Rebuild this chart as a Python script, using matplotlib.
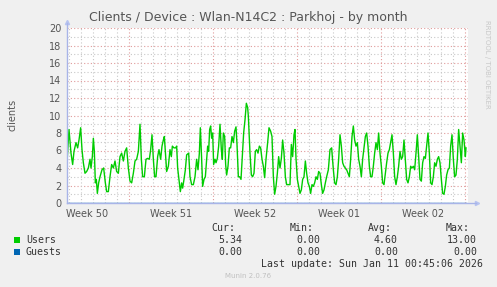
import matplotlib
matplotlib.use("Agg")
import matplotlib.pyplot as plt
import numpy as np

# ---- data ----
title = "Clients / Device : Wlan-N14C2 : Parkhoj - by month"
hours = [0, 4, 8, 11.3, 14, 18, 21.3, 24, 27.3, 30, 32.7, 36, 39.3, 42.7, 46, 48, 50.7, 52.7, 54.7, 56.7,
         58.7, 60.7, 63.3, 66, 70, 73.3, 76.7, 79.3, 82.7, 86, 89.3, 92.7, 96, 99.3, 102.7, 106, 109.3, 112.7,
         116, 119.3, 122.7, 126, 129.3, 132.7, 136, 139.3, 142.7, 146, 148.7, 151.3, 154.7, 158, 161.3, 164.7,
         167.3, 170, 172.7, 175.3, 178, 181.3, 184, 187.3, 190, 192.7, 194.7, 197.3, 199.3, 202.7, 206, 208.7,
         210.7, 214, 217.3, 219.3, 221.3, 224, 226.7, 229.3, 231.3, 234, 236.7, 239.3, 243.3, 246, 249.3, 252.7,
         256, 259.3, 262, 264.7, 266.7, 269.3, 271.3, 274, 276.7, 279.3, 281.3, 283.3, 285.3, 287.3, 289.3,
         291.3, 293.3, 296, 298, 300.7, 303.3, 306, 308.7, 310.7, 312.7, 315.3, 317.3, 319.3, 322, 324.7, 327.3,
         330, 332.7, 335.3, 338, 340, 342.7, 345.3, 348, 350.7, 353.3, 356, 358.7, 361.3,
         362.7, 366, 368.7, 371.3, 374, 376.7, 379.3, 382, 384.7, 387.3, 390, 392.7, 395.3, 398, 401.3, 404,
         407.3, 410, 412.7, 415.3, 418, 420.7, 423.3, 426, 428.7, 431.3, 434, 436.7, 439.3, 442.7, 446, 448.7,
         451.3, 454, 456, 458, 460.7, 463.3, 466, 468.7, 471.3, 474, 476.7, 479.3, 482, 484.7, 487.3, 490,
         492.7, 495.3, 498, 500.7, 503.3, 506, 508.7, 511.3, 514, 516.7, 519.3, 522.7, 526, 529.3, 532.7,
         535.3, 538, 540.7, 543.3, 546, 548.7, 551.3, 554, 556.7, 559.3, 562, 564.7, 567.3, 570, 572.7, 575.3,
         578, 580.7, 583.3, 586, 588.7, 591.3, 594, 596.7, 599.3, 602, 604.7, 607.3, 610, 612.7, 615.3, 618,
         620.7, 623.3, 626, 628.7, 631.3, 634, 636.7, 639.3, 642, 644.7, 647.3, 650, 652.7, 655.3, 658, 660.7,
         663.3, 666, 668.7, 671.3, 674, 676.7, 679.3, 682, 684.7, 687.3, 690, 692.7, 695.3, 698, 700.7, 703.3,
         706, 708.7, 711.3, 714, 716.7, 719.3, 722, 724.7, 727.3, 730, 732.7, 735.3, 738, 740.7, 743.3, 746,
         748.7, 751.3, 754, 756.7, 759.3, 762, 764.7, 767.3, 770, 772.7, 775.3, 778, 780.7, 783.3, 786, 788.7,
         791.3, 794, 796.7, 798]
users = [4.6, 8.4, 5.7, 4.4, 5.9, 6.9, 6.3, 7.2, 8.6, 6.1, 4.6, 3.4, 3.6, 4.0, 5.0, 4.0, 5.3, 7.4, 5.9, 2.3,
         2.7, 1.1, 2.3, 3.0, 3.8, 4.0, 2.3, 1.3, 1.3, 3.0, 4.4, 4.0, 4.8, 3.6, 3.4, 5.3, 5.7, 4.8, 5.9, 6.3,
         4.0, 2.5, 2.3, 3.4, 4.8, 5.0, 5.9, 9.0, 5.0, 3.0, 3.0, 5.0, 5.1, 5.0, 6.1, 7.8, 5.0, 3.0, 3.0, 5.3,
         6.1, 5.0, 6.5, 7.2, 7.6, 5.3, 3.6, 4.2, 6.1, 5.3, 6.5, 6.3, 6.3, 6.5, 4.0, 2.7, 1.3, 2.3, 1.7, 2.7,
         3.8, 5.5, 5.7, 3.0, 2.1, 2.1, 3.0, 5.0, 3.8, 5.7, 8.6, 5.0, 1.9, 2.7, 3.0, 5.0, 6.5, 5.9, 8.4, 8.8,
         7.4, 8.0, 4.4, 5.0, 4.6, 5.1, 6.5, 9.0, 6.1, 5.0, 8.0, 7.6, 4.4, 3.2, 4.2, 6.3, 6.3, 7.6, 6.9, 8.2,
         8.7, 6.7, 3.0, 3.0, 2.7, 5.3, 8.0, 9.5, 11.4, 10.9,
         9.9, 5.7, 3.2, 3.0, 3.4, 5.9, 6.1, 5.7, 6.5, 6.3, 5.0, 4.2, 2.9, 5.0, 6.9, 8.6, 8.2, 7.6, 3.0, 1.0,
         1.9, 3.4, 5.3, 4.0, 5.1, 7.2, 5.7, 3.0, 2.1, 2.1, 2.1, 6.7, 5.3, 7.8, 8.4, 5.1, 2.7, 1.9, 1.1, 1.5,
         2.7, 3.0, 4.8, 3.4, 2.3, 1.9, 1.1, 2.1, 1.9, 2.3, 3.0, 2.7, 3.6, 3.4, 2.1, 1.1, 1.5, 2.3, 3.0, 3.8,
         6.1, 6.3, 3.8, 2.3, 2.1, 3.0, 5.0, 7.8, 6.5, 4.6, 4.2, 4.0, 3.8, 3.4, 3.0, 5.0, 7.6, 8.8, 7.2, 6.5,
         6.9, 5.0, 4.2, 3.0, 5.0, 6.3, 7.6, 8.0, 6.5, 4.2, 3.0, 3.0, 4.2, 5.7, 6.9, 6.1, 8.0, 5.7, 4.2, 2.3,
         2.1, 3.4, 4.6, 5.7, 6.1, 6.9, 7.8, 5.7, 3.0, 2.1, 3.0, 4.2, 5.9, 5.0, 5.3, 7.2, 5.0, 2.7, 2.3, 3.0,
         4.2, 4.0, 4.2, 3.8, 5.7, 7.8, 5.3, 2.7, 2.5, 4.6, 5.3, 5.1, 6.5, 8.0, 5.7, 2.3, 2.1, 3.0, 4.6, 4.2,
         5.0, 5.3, 4.6, 2.7, 1.1, 1.0, 1.9, 3.2, 3.8, 4.0, 6.5, 7.8, 5.0, 3.0, 3.2, 5.0, 8.4, 6.5, 4.6, 8.0,
         7.2, 5.3, 6.3]
guests = [0.0] * len(hours)
week_labels = ["Week 50", "Week 51", "Week 52", "Week 01", "Week 02"]
week_starts = [124, 292, 460, 628, 796]   # hours from left edge (Mondays)
legend_names = ["Users", "Guests"]
legend_colors = ["#00cc00", "#0066b3"]
stats_headers = ["Cur:", "Min:", "Avg:", "Max:"]
stats_users = ["5.34", "0.00", "4.60", "13.00"]
stats_guests = ["0.00", "0.00", "0.00", "0.00"]
last_update = "Last update: Sun Jan 11 00:45:06 2026"
x_max = 802
y_max = 20

W, H = 497, 287
fig = plt.figure(figsize=(W / 100, H / 100), dpi=100, facecolor="#f0f0f0")
L, R, T, B = 67, 468, 28, 203
ax = fig.add_axes([L / W, 1 - B / H, (R - L) / W, (B - T) / H], facecolor="white")
ax.set_xlim(0, x_max)
ax.set_ylim(0, y_max)

# grid
dot = (0, (1, 2))
for v in range(0, y_max + 1):
    ax.axhline(v, color="#e09a9a" if v % 2 == 0 else "#c8c8c8", lw=0.8, ls=dot, zorder=1)
for ws in week_starts:
    ax.axvline(ws, color="#e09a9a", lw=0.8, ls=dot, zorder=1)
    for d in range(1, 7):
        xx = ws - 24 * d
        if 0 < xx < x_max:
            ax.axvline(xx, color="#c8c8c8", lw=0.8, ls=dot, zorder=1)

ax.plot(hours, guests, color=legend_colors[1], lw=1, zorder=2)
ax.plot(hours, users, color=legend_colors[0], lw=1, zorder=3)

for s in ax.spines.values():
    s.set_visible(False)
ax.plot([0, 1.02], [0, 0], transform=ax.transAxes, color="#a8b4e8", lw=1, clip_on=False, zorder=4)
ax.plot([0, 0], [0, 1.03], transform=ax.transAxes, color="#a8b4e8", lw=1, clip_on=False, zorder=4)
ax.plot([1.022], [0], transform=ax.transAxes, marker=">", color="#b8c4f0", ms=3, clip_on=False)
ax.plot([0], [1.035], transform=ax.transAxes, marker="^", color="#b8c4f0", ms=3, clip_on=False)

ax.set_yticks(range(0, y_max + 1, 2))
ax.set_xticks([ws - 84 for ws in week_starts])
ax.set_xticklabels(week_labels)
ax.tick_params(axis="both", length=0, labelsize=7, colors="#555555", pad=4)
ax.tick_params(axis="x", pad=4)

fig.text(248 / W, 1 - 18 / H, title, ha="center", va="center", fontsize=9, color="#555555")
fig.text(12 / W, 1 - 115 / H, "clients", ha="center", va="center", rotation=90, fontsize=7, color="#555555")
fig.text(487 / W, 1 - 20 / H, "RRDTOOL / TOBI OETIKER", ha="center", va="top", rotation=270,
         fontsize=5, color="#c8c8c8")

mono = "DejaVu Sans Mono"
fs = 7.1
hdr_x = [235, 314, 392, 470]
val_x = [242, 320, 398, 477]
for hx, h in zip(hdr_x, stats_headers):
    fig.text(hx / W, 1 - 228 / H, h, ha="right", va="center", family=mono, fontsize=fs, color="#333333")
for row_y, name, col, vals in [(240, legend_names[0], legend_colors[0], stats_users),
                               (252, legend_names[1], legend_colors[1], stats_guests)]:
    fig.patches.append(plt.Rectangle((14 / W, 1 - (row_y + 3) / H), 6 / W, 6 / H, transform=fig.transFigure,
                                     facecolor=col, edgecolor="none"))
    fig.text(26 / W, 1 - row_y / H, name, ha="left", va="center", family=mono, fontsize=fs, color="#333333")
    for vx, v in zip(val_x, vals):
        fig.text(vx / W, 1 - row_y / H, v, ha="right", va="center", family=mono, fontsize=fs, color="#333333")
fig.text(483 / W, 1 - 264 / H, last_update, ha="right", va="center", family=mono, fontsize=fs, color="#333333")
fig.text(248 / W, 1 - 276 / H, "Munin 2.0.76", ha="center", va="center", fontsize=5, color="#c0c0c0")

fig.savefig("out.png", dpi=100, facecolor=fig.get_facecolor())
